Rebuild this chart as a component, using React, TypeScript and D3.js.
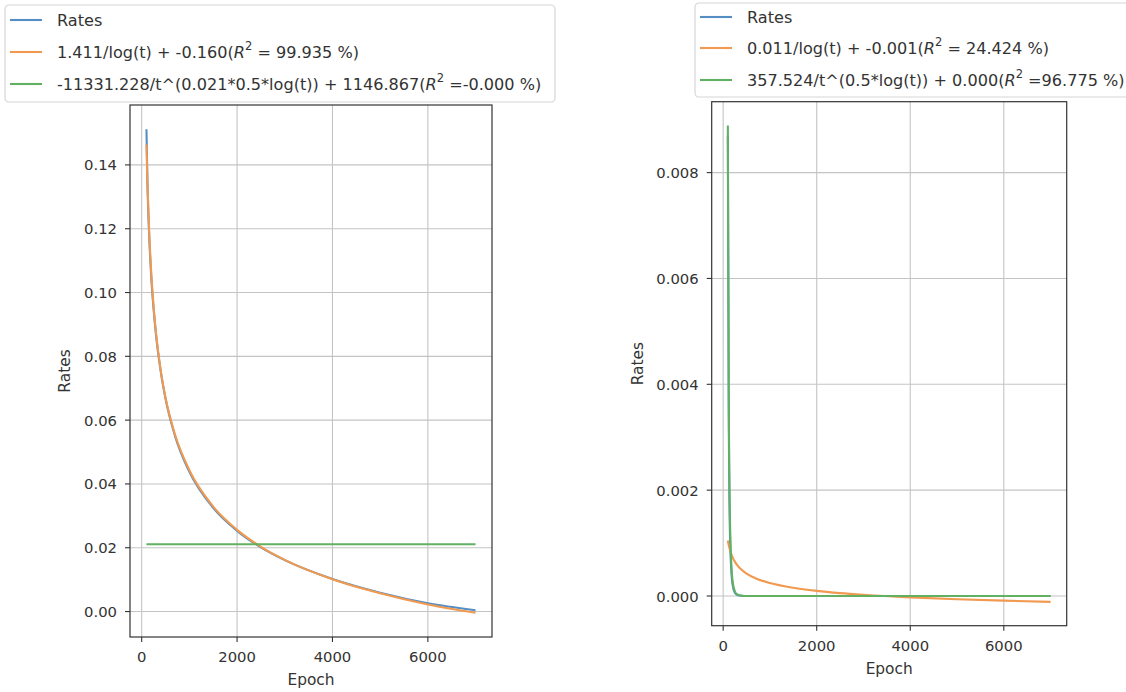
import React from "react";
import * as d3 from "d3";

// ---- data ----
const epochs = [100, 120, 150, 200, 250, 300, 400, 500, 700, 1000, 1500, 2000, 2500, 3000, 4000, 5000, 6000, 7000];

const leftRates = [0.1512, 0.135, 0.1205, 0.105, 0.0948, 0.0868, 0.0752, 0.0667, 0.055, 0.0438, 0.0325, 0.0253, 0.0201, 0.0161, 0.0102, 0.0059, 0.0026, 0.0004];
const leftLogFit = [0.1464, 0.1347, 0.1216, 0.1063, 0.0956, 0.0874, 0.0755, 0.067, 0.0554, 0.0443, 0.0329, 0.0256, 0.0203, 0.0162, 0.0101, 0.0057, 0.0022, -0.0004];
const leftPowFit = [0.0211, 0.0211, 0.0211, 0.0211, 0.0211, 0.0211, 0.0211, 0.0211, 0.0211, 0.0211, 0.0211, 0.0211, 0.0211, 0.0211, 0.0211, 0.0211, 0.0211, 0.0211];

const rightRates = [0.0087, 0.0034, 0.001, 0.00022, 0.00006, 0.00002, 0.000004, 0, 0, 0, 0, 0, 0, 0, 0, 0, 0, 0];
const rightLogFit = [0.00105, 0.000959, 0.000855, 0.000735, 0.00065, 0.000585, 0.000491, 0.000424, 0.000332, 0.000244, 0.000155, 0.000097, 0.000055, 0.000023, -0.000026, -0.000061, -0.000088, -0.000111];
const rightPowFit = [0.00889, 0.00376, 0.00126, 0.00029, 0.00009, 0.00003, 0.000006, 0.000001, 0, 0, 0, 0, 0, 0, 0, 0, 0, 0];

const xTicks = [0, 2000, 4000, 6000];
const leftYTicks = [0, 0.02, 0.04, 0.06, 0.08, 0.1, 0.12, 0.14];
const rightYTicks = [0, 0.002, 0.004, 0.006, 0.008];

const seriesNames = ["Rates", "logFit", "powFit"];
const leftLegend = [
  { pre: "Rates", r2: null as string | null },
  { pre: "1.411/log(t) + -0.160(", r2: " = 99.935 %)" },
  { pre: "-11331.228/t^(0.021*0.5*log(t)) + 1146.867(", r2: " =-0.000 %)" },
];
const rightLegend = [
  { pre: "Rates", r2: null as string | null },
  { pre: "0.011/log(t) + -0.001(", r2: " = 24.424 %)" },
  { pre: "357.524/t^(0.5*log(t)) + 0.000(", r2: " =96.775 %)" },
];

const COLORS = ["#558ec4", "#f1994f", "#62b062"];
const FONT = "DejaVu Sans, Verdana, sans-serif";
const TEXT = "#333";
const TICK_FS = 14.8;
const LABEL_FS = 15.4;
const LEGEND_FS = 16.1;

type Panel = {
  x0: number; x1: number; y0: number; y1: number;
  series: number[][];
  yTicks: number[];
  yFmt: string;
  ylabelOffset: number;
  legend: { pre: string; r2: string | null }[];
  lg: { x: number; y: number; w: number; h: number; rows: number[] };
};

function PanelView({ p, id }: { p: Panel; id: string }) {
  const xExt = d3.extent(epochs) as [number, number];
  const xPad = (xExt[1] - xExt[0]) * 0.05;
  const x = d3.scaleLinear().domain([xExt[0] - xPad, xExt[1] + xPad]).range([p.x0, p.x1]);
  const all = p.series.flat();
  const yExt = d3.extent(all) as [number, number];
  const yPad = (yExt[1] - yExt[0]) * 0.05;
  const y = d3.scaleLinear().domain([yExt[0] - yPad, yExt[1] + yPad]).range([p.y1, p.y0]);
  const line = d3
    .line<number>()
    .x((_, i) => x(epochs[i]))
    .y((d) => y(d))
    .curve(d3.curveMonotoneX);
  const fmt = d3.format(p.yFmt);
  const cx = (p.x0 + p.x1) / 2;
  const cy = (p.y0 + p.y1) / 2;
  return (
    <g>
      <defs>
        <clipPath id={id}>
          <rect x={p.x0} y={p.y0} width={p.x1 - p.x0} height={p.y1 - p.y0} />
        </clipPath>
      </defs>
      <rect x={p.x0} y={p.y0} width={p.x1 - p.x0} height={p.y1 - p.y0} fill="#fff" />
      {/* grid */}
      {xTicks.map((t) => (
        <line key={"gx" + t} x1={x(t)} x2={x(t)} y1={p.y0} y2={p.y1} stroke="#c4c4c4" strokeWidth={1.1} />
      ))}
      {p.yTicks.map((t) => (
        <line key={"gy" + t} x1={p.x0} x2={p.x1} y1={y(t)} y2={y(t)} stroke="#c4c4c4" strokeWidth={1.1} />
      ))}
      {/* series */}
      <g clipPath={`url(#${id})`}>
        {p.series.map((s, i) => (
          <path key={seriesNames[i]} d={line(s) || ""} fill="none" stroke={COLORS[i]} strokeWidth={2.1} strokeLinejoin="round" />
        ))}
      </g>
      {/* frame */}
      <rect x={p.x0} y={p.y0} width={p.x1 - p.x0} height={p.y1 - p.y0} fill="none" stroke="#333" strokeWidth={1.2} />
      {/* x ticks */}
      {xTicks.map((t) => (
        <g key={"xt" + t}>
          <line x1={x(t)} x2={x(t)} y1={p.y1} y2={p.y1 + 5} stroke="#333" strokeWidth={1.1} />
          <text x={x(t)} y={p.y1 + 19.5} textAnchor="middle" dominantBaseline="central" fontFamily={FONT} fontSize={TICK_FS} fill={TEXT}>
            {t}
          </text>
        </g>
      ))}
      {/* y ticks */}
      {p.yTicks.map((t) => (
        <g key={"yt" + t}>
          <line x1={p.x0 - 5} x2={p.x0} y1={y(t)} y2={y(t)} stroke="#333" strokeWidth={1.1} />
          <text x={p.x0 - 13} y={y(t)} textAnchor="end" dominantBaseline="central" fontFamily={FONT} fontSize={TICK_FS} fill={TEXT}>
            {fmt(t)}
          </text>
        </g>
      ))}
      <text x={cx} y={p.y1 + 43} textAnchor="middle" dominantBaseline="central" fontFamily={FONT} fontSize={LABEL_FS} fill={TEXT}>
        Epoch
      </text>
      <text
        transform={`translate(${p.x0 - p.ylabelOffset},${cy}) rotate(-90)`}
        textAnchor="middle"
        dominantBaseline="central"
        fontFamily={FONT}
        fontSize={LABEL_FS}
        fill={TEXT}
      >
        Rates
      </text>
      {/* legend */}
      <rect x={p.lg.x} y={p.lg.y} width={p.lg.w} height={p.lg.h} rx={4} fill="#fff" fillOpacity={0.85} stroke="#d6d6d6" strokeWidth={1.2} />
      {p.legend.map((e, i) => (
        <g key={"lg" + i}>
          <line x1={p.lg.x + 5} x2={p.lg.x + 37} y1={p.lg.rows[i]} y2={p.lg.rows[i]} stroke={COLORS[i]} strokeWidth={2.1} />
          <text x={p.lg.x + 52} y={p.lg.rows[i]} dominantBaseline="central" fontFamily={FONT} fontSize={LEGEND_FS} fill={TEXT}>
            {e.pre}
            {e.r2 !== null && (
              <>
                <tspan fontStyle="italic">R</tspan>
                <tspan dy={-6} fontSize={11.5}>2</tspan>
                <tspan dy={6}>{e.r2}</tspan>
              </>
            )}
          </text>
        </g>
      ))}
    </g>
  );
}

export default function App() {
  const left: Panel = {
    x0: 130, x1: 492, y0: 105, y1: 637,
    series: [leftRates, leftLogFit, leftPowFit],
    yTicks: leftYTicks,
    yFmt: ".2f",
    ylabelOffset: 65,
    legend: leftLegend,
    lg: { x: 5, y: 5, w: 550, h: 97, rows: [20, 52, 84] },
  };
  const right: Panel = {
    x0: 711.7, x1: 1066.7, y0: 101.7, y1: 625.7,
    series: [rightRates, rightLogFit, rightPowFit],
    yTicks: rightYTicks,
    yFmt: ".3f",
    ylabelOffset: 74,
    legend: rightLegend,
    lg: { x: 695, y: 3, w: 440, h: 94, rows: [17, 48, 80] },
  };
  return (
    <svg width={1126} height={692} style={{ position: "absolute", left: 0, top: 0, background: "#fff" }}>
      <rect x={0} y={0} width={1126} height={692} fill="#fff" />
      <PanelView p={left} id="clipL" />
      <PanelView p={right} id="clipR" />
    </svg>
  );
}
